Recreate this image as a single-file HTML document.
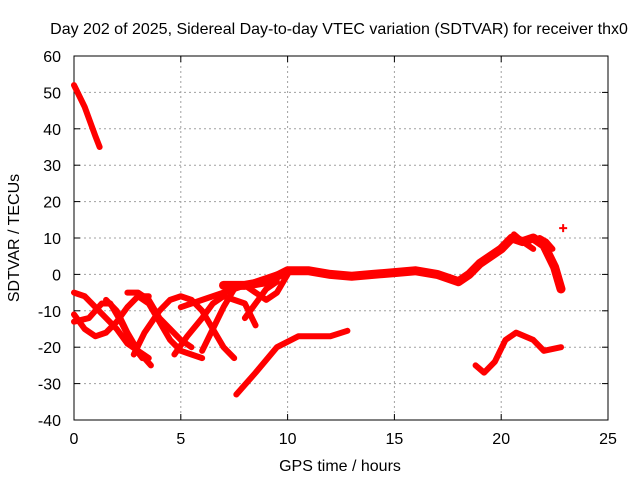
<!DOCTYPE html>
<html><head><meta charset="utf-8"><style>
body{margin:0;background:#fff}
svg text{font-family:"Liberation Sans",sans-serif;font-size:16px;fill:#000}
</style></head><body>
<svg width="640" height="480">
<g id="grid"></g>
<g id="axes"></g>
<g id="series"></g>
<text x="339" y="34" text-anchor="middle">Day 202 of 2025, Sidereal Day-to-day VTEC variation (SDTVAR) for receiver thx0</text>
<text x="340" y="471" text-anchor="middle">GPS time / hours</text>
<text transform="translate(19,238) rotate(-90)" text-anchor="middle">SDTVAR / TECUs</text>
</svg>
<script>
const xTicks=[0,5,10,15,20,25];
const yTicks=[60,50,40,30,20,10,0,-10,-20,-30,-40];
const sHigh=[[0,52],[0.5,46],[1,38],[1.2,35]];
const sMain=[[7,-3],[8,-3],[9,-2],[10,1],[11,1],[12,0],[13,-0.5],[14,0],[15,0.5],[16,1],[17,0],[18,-2],[18.5,0],[19,3],[20,7],[20.5,10],[21,9],[21.5,10],[22,8],[22.5,2],[22.8,-4]];
const sSideA=[[20.6,11],[21,9],[21.5,7]];
const sSideB=[[21.8,10],[22.1,9],[22.4,7]];
const sLow1=[[7.6,-33],[8.5,-27],[9.5,-20],[10.5,-17],[12,-17],[12.8,-15.5]];
const sLow2=[[18.8,-25],[19.2,-27],[19.7,-24],[20.2,-18],[20.7,-16],[21.5,-18],[22,-21],[22.8,-20]];
const sA=[[0,-5],[0.5,-6],[1,-9],[1.5,-12],[2,-15],[2.5,-19],[3,-21],[3.6,-25]];
const sB=[[0,-11],[0.5,-15],[1,-17],[1.5,-16],[2,-13],[2.5,-9],[3,-6],[3.5,-6]];
const sC=[[0,-13],[0.7,-12],[1.3,-8],[1.7,-8],[2.2,-13],[2.8,-20],[3.2,-23]];
const sD=[[1.5,-7],[2,-10],[2.5,-16],[3,-21],[3.5,-23]];
const sE=[[2.8,-22],[3.3,-16],[4,-10],[4.5,-7],[5,-6],[5.5,-7],[6,-10],[6.5,-15],[7,-20],[7.5,-23]];
const sF=[[3,-6],[3.5,-8],[4,-13],[4.5,-18],[5,-21],[5.5,-22],[6,-23]];
const sG=[[4.7,-22],[5.3,-17],[6,-12],[6.5,-8],[7,-6],[7.5,-7],[8,-8],[8.5,-14]];
const sH=[[2.5,-5],[3,-5],[3.5,-7],[4,-12],[4.5,-15],[5,-18],[5.5,-20]];
const sI=[[6,-21],[6.5,-15],[7,-9],[7.5,-4],[8,-3],[8.5,-5],[9,-7],[9.5,-5],[10,0]];
const sJ=[[5,-9],[6,-7],[7,-5],[8,-3],[9,-1],[10,1]];
const sK=[[8,-12],[8.5,-8],[9,-4],[9.5,-2]];
const sPoint=[[22.9,12.7]];
const allSeries=[sHigh,sMain,sSideA,sSideB,sLow1,sLow2,sA,sB,sC,sD,sE,sF,sG,sH,sI,sJ,sK];

const NS="http://www.w3.org/2000/svg";
const X0=74,X1=608,Y0=56,Y1=420;
const xs=v=>X0+(v-0)/(25-0)*(X1-X0);
const ys=v=>Y1-(v+40)/(100)*(Y1-Y0);
function mk(t,a,p){const e=document.createElementNS(NS,t);for(const k in a)e.setAttribute(k,a[k]);p.appendChild(e);return e;}
const grid=document.getElementById('grid'),axes=document.getElementById('axes'),ser=document.getElementById('series');
xTicks.forEach(t=>{
 if(t>0&&t<25){const g=mk('line',{x1:xs(t),x2:xs(t),y1:Y0,y2:Y1,stroke:'#a0a0a0','stroke-dasharray':'2,3'},grid);
 
 }
 const l=mk('text',{x:xs(t),y:Y1+24,'text-anchor':'middle'},axes);l.textContent=t;
 
 
 mk('line',{x1:xs(t),x2:xs(t),y1:Y1,y2:Y1-6,stroke:'#000'},axes);
 mk('line',{x1:xs(t),x2:xs(t),y1:Y0,y2:Y0+6,stroke:'#000'},axes);
});
yTicks.forEach(t=>{
 if(t<60&&t>-40){const g=mk('line',{x1:X0,x2:X1,y1:ys(t),y2:ys(t),stroke:'#a0a0a0','stroke-dasharray':'2,3'},grid);
 
 }
 const l=mk('text',{x:X0-13,y:ys(t)+6,'text-anchor':'end'},axes);l.textContent=t;
 
 
 mk('line',{x1:X0,x2:X0+6,y1:ys(t),y2:ys(t),stroke:'#000'},axes);
 mk('line',{x1:X1,x2:X1-6,y1:ys(t),y2:ys(t),stroke:'#000'},axes);
});
const fr=mk('rect',{x:X0,y:Y0,width:X1-X0,height:Y1-Y0,fill:'none',stroke:'#000'},axes);


allSeries.forEach(s=>{
 const w=(s===sMain)?9:6;
 const p=mk('polyline',{points:s.map(d=>xs(d[0])+','+ys(d[1])).join(' '),fill:'none',stroke:'#f00','stroke-width':w,'stroke-linejoin':'round','stroke-linecap':'round'},ser);
 
 
});
sPoint.forEach(d=>{
 const g=mk('path',{d:`M${xs(d[0])-4},${ys(d[1])}h8M${xs(d[0])},${ys(d[1])-4}v8`,stroke:'#f00','stroke-width':2},ser);
 
 
});
</script>
</body></html>
